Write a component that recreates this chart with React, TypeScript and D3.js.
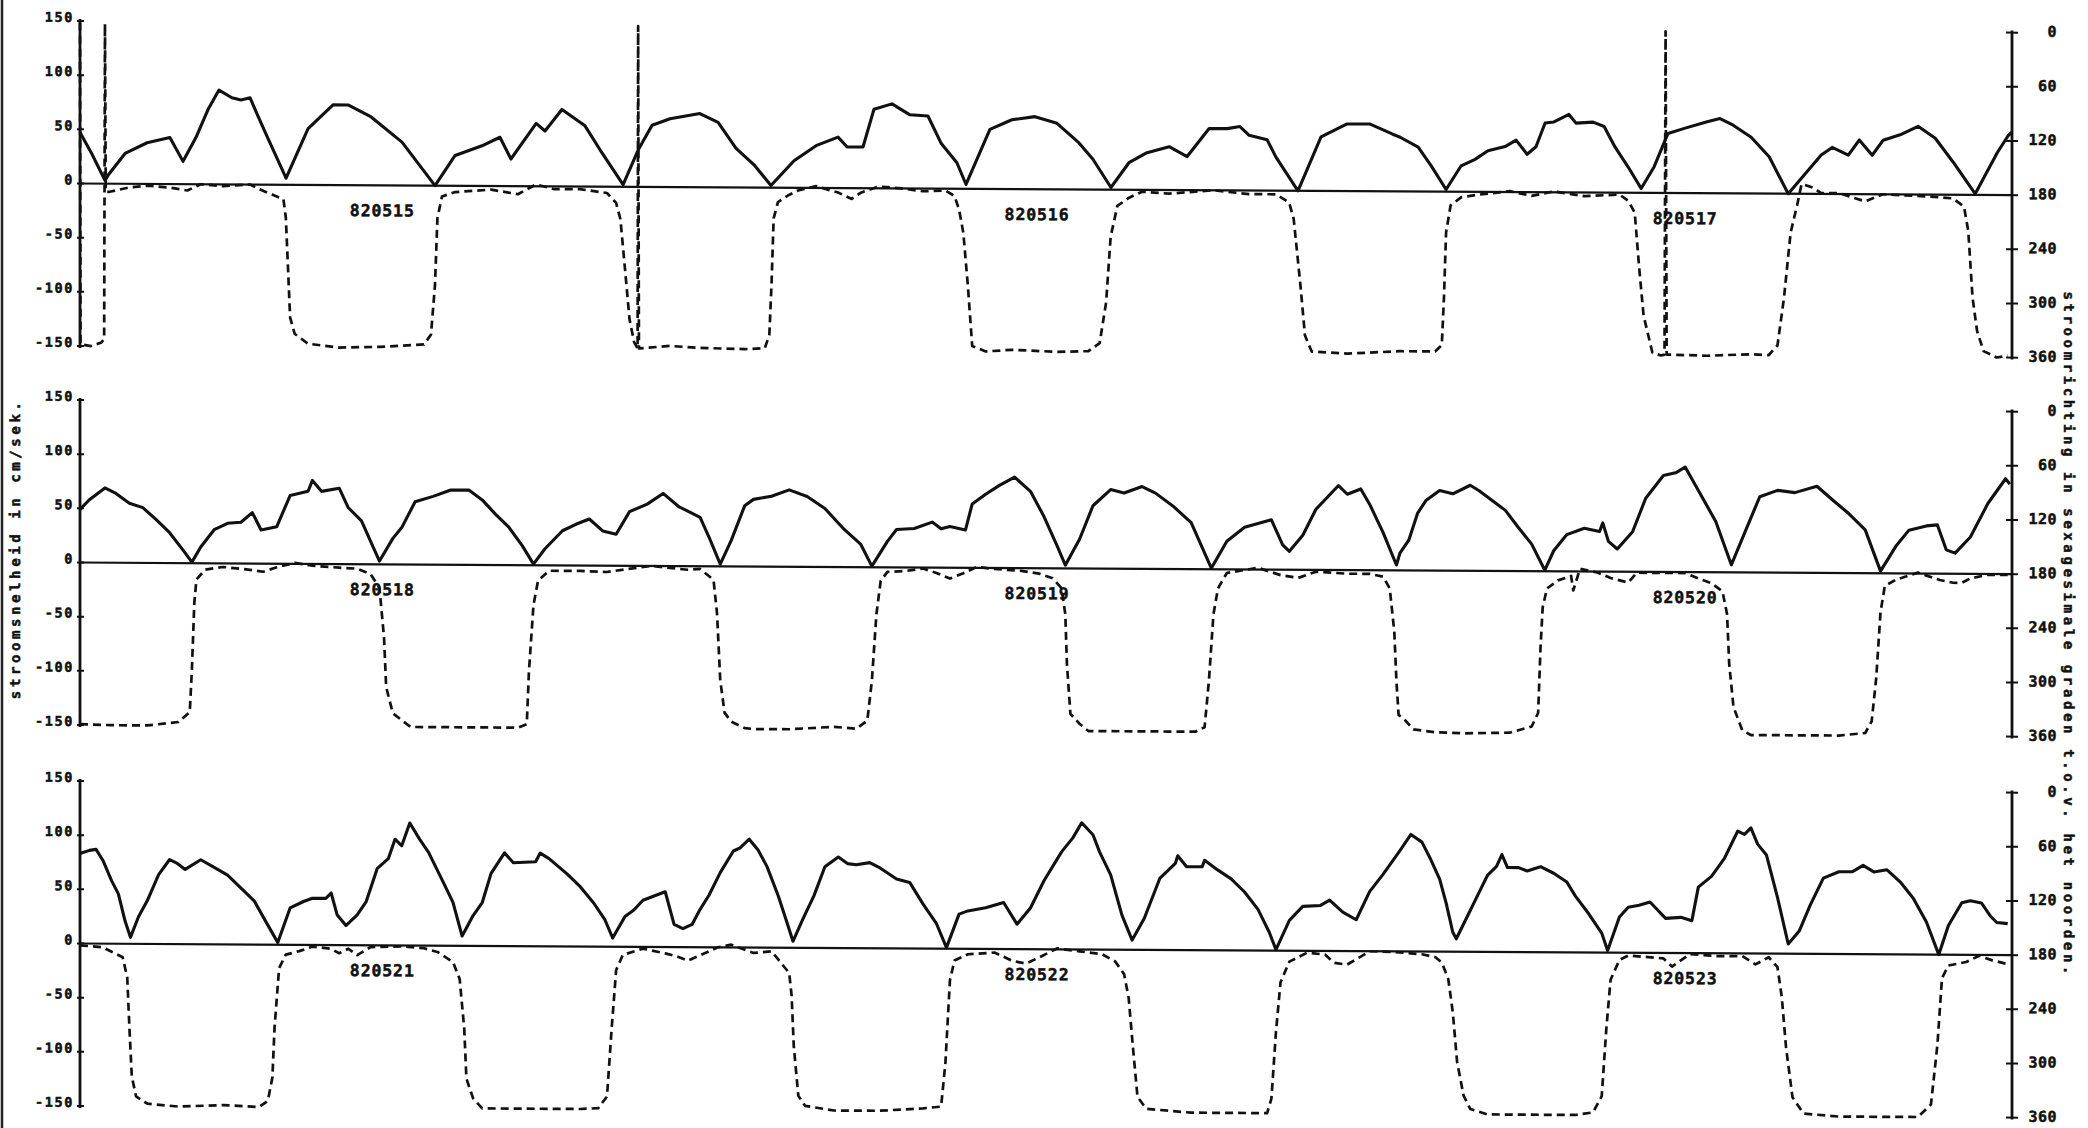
import { useMemo } from "react";
import * as d3 from "d3";

const WIDTH = 2088;
const HEIGHT = 1128;
const PLOT_LEFT = 80;
const PLOT_RIGHT = 2012;
const PANEL_TOPS = [21, 400, 781];
const PANEL_HEIGHT = 325;
// the scanned plot runs slightly downhill to the right
const SKEW = 0.006;
const FONT = "'DejaVu Sans Mono', 'Liberation Mono', monospace";
const INK = "#111";

const HOURS = 72;
const speedTicks = [150, 100, 50, 0, -50, -100, -150];
const directionTicks = [0, 60, 120, 180, 240, 300, 360];
const dayLabels = [
  ["820515", "820516", "820517"],
  ["820518", "820519", "820520"],
  ["820521", "820522", "820523"],
];
const dayLabelHours = [11.25, 35.65, 59.8];

// [hour, cm/sek]
const speedA = [
  [0, 47], [0.43, 28], [0.93, 3], [1.08, 9], [1.68, 28], [2.5, 38], [3.35, 43], [3.84, 21], [4.32, 43], [4.77, 69],
  [5.18, 87], [5.66, 80], [6.0, 78], [6.34, 80], [6.6, 65], [7.0, 43], [7.68, 6], [8.5, 52], [9.43, 74], [9.99, 74],
  [10.85, 63], [12.0, 40], [13.23, 0], [13.98, 28], [14.98, 37], [15.65, 45], [16.06, 25], [17.0, 58], [17.33, 51],
  [17.96, 71], [18.82, 56], [19.38, 34], [20.24, 2], [20.8, 34], [21.32, 57], [21.99, 63], [23.1, 68], [23.78, 60],
  [24.45, 36], [25.12, 21], [25.75, 2], [26.61, 25], [27.43, 39], [28.25, 47], [28.59, 38], [29.18, 38], [29.59, 73],
  [30.26, 78], [30.93, 68], [31.6, 67], [32.09, 42], [32.68, 24], [33.02, 4], [33.91, 55], [34.73, 64], [35.59, 67],
  [36.41, 61], [37.23, 43], [37.75, 28], [38.42, 2], [39.09, 25], [39.73, 34], [40.59, 40], [41.26, 31], [42.08, 57],
  [42.75, 57], [43.23, 59], [43.57, 51], [44.24, 47], [44.57, 31], [45.39, 0], [46.25, 50], [47.22, 62], [48.08, 62],
  [48.9, 53], [49.2, 50], [49.87, 41], [50.35, 24], [50.91, 2], [51.47, 24], [51.99, 30], [52.47, 38], [53.11, 42],
  [53.52, 48], [53.93, 35], [54.26, 42], [54.6, 64], [54.93, 65], [55.49, 72], [55.75, 64], [56.39, 65], [56.8, 61],
  [57.21, 42], [57.69, 24], [58.18, 4], [58.66, 24], [59.18, 55], [59.82, 60], [60.64, 66], [61.12, 69], [61.61, 63],
  [62.28, 52], [62.95, 34], [63.66, 0], [64.89, 36], [65.3, 43], [65.9, 36], [66.31, 50], [66.79, 36], [67.2, 50],
  [67.83, 55], [68.5, 63], [69.14, 52], [69.81, 30], [70.63, 1], [71.45, 39], [71.86, 55], [72, 58],
];

// [hour, degrees]
const dirA = [
  [0, 2], [0.02, 358], [0.4, 360], [0.8, 356], [0.9, 352], [0.93, 3], [0.96, 189], [1.1, 189], [1.84, 184], [2.5, 182],
  [3.35, 184], [4.0, 187], [4.5, 180], [5.33, 182], [6.34, 180], [6.67, 185], [7.16, 191], [7.58, 196], [7.67, 216],
  [7.75, 271], [7.83, 327], [8.0, 345], [8.5, 356], [9.65, 360], [11.16, 359], [12.82, 356], [13.08, 345], [13.23, 290],
  [13.32, 216], [13.49, 192], [13.98, 187], [15.32, 184], [16.32, 189], [16.99, 178], [17.65, 183], [18.63, 183],
  [19.64, 187], [19.98, 198], [20.14, 216], [20.31, 271], [20.48, 327], [20.65, 352], [20.78, 359], [20.8, 2],
  [20.83, 359], [21.99, 356], [23.11, 358], [24.77, 359], [25.52, 358], [25.69, 343], [25.77, 288], [25.85, 214],
  [26.01, 196], [26.42, 188], [26.76, 183], [27.43, 178], [28.25, 185], [28.76, 192], [29.1, 185], [29.76, 178],
  [30.6, 180], [31.42, 183], [32.25, 182], [32.59, 188], [32.76, 203], [32.92, 229], [33.09, 288], [33.25, 354],
  [33.75, 360], [34.75, 358], [36.41, 360], [37.58, 359], [38.0, 350], [38.24, 305], [38.41, 232], [38.66, 198],
  [39.08, 189], [39.58, 182], [40.58, 184], [42.24, 180], [43.57, 184], [44.57, 184], [45.06, 193], [45.23, 211],
  [45.48, 284], [45.65, 340], [45.9, 358], [47.22, 360], [49.19, 357], [50.5, 357], [50.75, 350], [50.83, 298],
  [50.91, 225], [51.08, 195], [51.48, 186], [52.14, 183], [53.28, 179], [54.1, 184], [54.92, 179], [56.06, 184],
  [57.37, 182], [57.7, 189], [57.94, 202], [58.1, 261], [58.27, 316], [58.6, 357], [58.92, 360], [59.05, 359],
  [59.09, 1], [59.13, 359], [59.33, 359], [60.64, 360], [62.27, 358], [62.93, 359], [63.26, 348], [63.5, 296],
  [63.75, 223], [63.99, 193], [64.16, 169], [64.57, 173], [64.89, 179], [65.55, 179], [66.53, 188], [67.18, 180],
  [68.81, 182], [69.8, 184], [70.21, 193], [70.37, 220], [70.53, 294], [70.7, 331], [70.94, 353], [71.43, 360],
  [71.84, 358],
];

const speedB = [
  [0, 49], [0.35, 58], [0.93, 69], [1.34, 64], [1.84, 55], [2.34, 51], [2.84, 40], [3.34, 28], [3.84, 12], [4.17, 1],
  [4.5, 15], [5.0, 31], [5.5, 37], [6.0, 38], [6.42, 47], [6.75, 31], [7.33, 34], [7.83, 63], [8.5, 67], [8.66, 77],
  [9.0, 67], [9.66, 70], [10.0, 52], [10.49, 40], [10.83, 21], [11.16, 3], [11.66, 24], [11.99, 34], [12.49, 58],
  [13.16, 63], [13.82, 69], [14.49, 69], [14.99, 60], [15.48, 47], [15.98, 35], [16.48, 18], [16.9, 1], [17.32, 15],
  [17.98, 32], [18.48, 38], [18.98, 43], [19.48, 32], [19.98, 29], [20.48, 50], [21.14, 57], [21.73, 67], [22.31, 55],
  [23.11, 45], [23.44, 27], [23.86, 2], [24.27, 24], [24.77, 56], [25.1, 62], [25.77, 65], [26.43, 71], [27.1, 65],
  [27.76, 54], [28.43, 36], [29.1, 21], [29.51, 1], [30.09, 24], [30.43, 35], [31.09, 36], [31.76, 42], [32.09, 36],
  [32.42, 38], [33.0, 35], [33.25, 59], [33.75, 68], [34.25, 76], [34.83, 84], [35.42, 71], [35.92, 48], [36.41, 21],
  [36.72, 3], [37.25, 27], [37.75, 58], [38.41, 73], [38.91, 70], [39.58, 76], [40.08, 70], [40.74, 58], [41.41, 43],
  [42.16, 1], [42.74, 26], [43.4, 39], [44.4, 46], [44.82, 23], [45.07, 17], [45.57, 32], [46.06, 56], [46.9, 78],
  [47.23, 70], [47.73, 75], [48.06, 61], [48.56, 35], [49.06, 5], [49.19, 16], [49.52, 28], [49.85, 53], [50.17, 65],
  [50.67, 74], [51.16, 71], [51.81, 79], [52.14, 74], [52.63, 65], [53.12, 56], [53.61, 40], [54.1, 25], [54.59, 1],
  [54.92, 19], [55.41, 34], [56.06, 40], [56.63, 37], [56.75, 45], [56.96, 28], [57.29, 21], [57.86, 37], [58.35, 68],
  [59.01, 89], [59.5, 92], [59.82, 97], [60.48, 68], [60.96, 47], [61.54, 7], [62.11, 41], [62.6, 70], [63.26, 76],
  [63.91, 74], [64.73, 80], [65.38, 66], [65.87, 56], [66.53, 40], [67.1, 2], [67.67, 25], [68.16, 40], [68.81, 44],
  [69.22, 45], [69.55, 22], [69.88, 19], [70.45, 34], [71.1, 65], [71.76, 88], [71.92, 83],
];

const dirB = [
  [0, 359], [1.18, 360], [2.51, 360], [3.67, 356], [4.09, 345], [4.17, 298], [4.26, 224], [4.34, 198], [4.67, 187],
  [5.34, 184], [6.34, 187], [6.83, 189], [7.33, 184], [8.0, 179], [8.66, 182], [9.66, 184], [10.33, 185], [10.83, 191],
  [11.16, 206], [11.33, 261], [11.41, 316], [11.66, 345], [12.32, 360], [13.66, 360], [15.32, 360], [16.32, 360],
  [16.65, 356], [16.73, 298], [16.9, 224], [17.07, 197], [17.48, 186], [18.65, 186], [19.64, 187], [20.31, 184],
  [21.31, 180], [22.64, 184], [23.11, 183], [23.61, 195], [23.74, 232], [23.86, 306], [24.02, 342], [24.27, 352],
  [24.77, 359], [25.1, 360], [26.43, 360], [28.1, 357], [28.93, 359], [29.34, 350], [29.51, 306], [29.68, 232],
  [29.84, 195], [30.09, 185], [30.76, 184], [31.42, 181], [31.92, 186], [32.42, 192], [32.92, 186], [33.42, 179],
  [34.08, 181], [35.08, 183], [35.75, 186], [36.25, 191], [36.58, 202], [36.72, 231], [36.78, 286], [36.91, 341],
  [37.25, 352], [37.58, 360], [38.91, 360], [40.58, 360], [41.57, 360], [41.91, 355], [42.07, 304], [42.24, 230],
  [42.41, 201], [42.74, 184], [43.9, 178], [44.74, 186], [45.4, 189], [46.06, 182], [47.23, 184], [48.06, 184],
  [48.56, 187], [48.81, 200], [48.98, 248], [49.06, 303], [49.14, 340], [49.36, 345], [49.69, 356], [50.5, 359],
  [51.65, 360], [53.28, 359], [54.1, 352], [54.34, 337], [54.43, 264], [54.51, 220], [54.67, 199], [55.08, 190],
  [55.57, 185], [55.65, 201], [55.9, 177], [56.55, 181], [57.04, 187], [57.7, 192], [58.02, 181], [59.01, 181],
  [59.82, 181], [60.31, 187], [60.8, 192], [61.21, 201], [61.38, 226], [61.46, 281], [61.62, 329], [61.95, 355],
  [62.27, 360], [63.91, 360], [65.55, 360], [66.53, 357], [66.77, 344], [66.94, 296], [67.1, 223], [67.26, 194],
  [67.67, 187], [68.49, 179], [69.31, 187], [69.8, 190], [70.13, 190], [70.45, 185], [71.1, 181], [71.84, 181],
];

const speedC = [
  [0, 83], [0.35, 86], [0.6, 87], [0.85, 77], [1.18, 58], [1.43, 46], [1.68, 21], [1.88, 6], [2.18, 25], [2.51, 40],
  [2.93, 64], [3.34, 78], [3.59, 75], [3.92, 69], [4.5, 78], [5.0, 71], [5.5, 64], [6.0, 52], [6.5, 40], [7.0, 18],
  [7.37, 2], [7.83, 34], [8.33, 40], [8.66, 43], [9.16, 43], [9.36, 48], [9.58, 28], [9.91, 18], [10.33, 28],
  [10.66, 40], [11.08, 71], [11.49, 80], [11.74, 98], [11.99, 92], [12.29, 113], [12.66, 98], [12.99, 86], [13.49, 61],
  [13.9, 40], [14.24, 9], [14.65, 28], [14.99, 40], [15.32, 67], [15.82, 86], [16.15, 77], [16.98, 78], [17.15, 86],
  [17.48, 81], [18.15, 67], [18.65, 55], [19.15, 40], [19.56, 25], [19.85, 8], [20.31, 28], [20.64, 34], [20.98, 43],
  [21.81, 51], [22.14, 21], [22.47, 17], [22.81, 21], [23.11, 35], [23.44, 48], [23.86, 69], [24.35, 89], [24.6, 92],
  [24.94, 100], [25.27, 90], [25.6, 75], [26.02, 48], [26.35, 23], [26.57, 6], [26.93, 26], [27.35, 48], [27.76, 75],
  [28.26, 84], [28.6, 78], [28.93, 77], [29.43, 79], [29.76, 75], [30.43, 64], [30.92, 61], [31.42, 41], [31.92, 23],
  [32.29, 1], [32.76, 32], [33.09, 35], [33.75, 38], [34.42, 43], [34.92, 23], [35.42, 38], [35.92, 63], [36.58, 90],
  [37.0, 103], [37.33, 117], [37.75, 106], [38.0, 90], [38.41, 69], [38.83, 32], [39.21, 9], [39.66, 29], [40.24, 66],
  [40.82, 80], [40.91, 87], [41.24, 77], [41.82, 77], [41.91, 83], [42.41, 74], [42.9, 66], [43.4, 54], [43.9, 38],
  [44.32, 17], [44.57, 1], [45.07, 28], [45.57, 41], [46.23, 42], [46.57, 47], [47.06, 36], [47.56, 29], [48.06, 55],
  [48.56, 71], [49.19, 93], [49.6, 108], [50.01, 101], [50.34, 85], [50.67, 67], [50.91, 45], [51.16, 18], [51.29, 12],
  [51.65, 30], [52.14, 55], [52.46, 71], [52.79, 79], [52.99, 90], [53.2, 78], [53.61, 78], [53.93, 75], [54.43, 79],
  [54.92, 73], [55.41, 65], [55.73, 52], [56.22, 36], [56.71, 18], [56.93, 2], [57.37, 33], [57.7, 42], [58.1, 44],
  [58.51, 47], [59.09, 32], [59.66, 33], [60.07, 30], [60.31, 61], [60.8, 71], [61.29, 88], [61.78, 113], [62.03, 110],
  [62.27, 116], [62.52, 101], [62.85, 91], [63.26, 52], [63.66, 9], [64.07, 21], [64.48, 45], [64.97, 70], [65.55, 76],
  [66.04, 76], [66.45, 82], [66.85, 76], [67.34, 78], [67.83, 67], [68.32, 52], [68.81, 30], [69.27, 0], [69.63, 27],
  [70.13, 48], [70.45, 50], [70.86, 48], [71.19, 36], [71.43, 30], [71.84, 29],
];

const dirC = [
  [0, 182], [0.85, 184], [1.18, 189], [1.59, 195], [1.76, 217], [1.84, 272], [1.93, 327], [2.09, 349], [2.51, 357],
  [3.67, 360], [5.34, 358], [6.67, 360], [7.0, 353], [7.17, 327], [7.25, 272], [7.42, 206], [7.67, 191], [8.17, 187],
  [8.66, 182], [9.33, 184], [9.66, 189], [10.0, 184], [10.33, 191], [10.83, 182], [11.99, 181], [12.82, 183],
  [13.32, 187], [13.9, 198], [14.15, 217], [14.32, 272], [14.4, 327], [14.65, 349], [14.99, 360], [16.98, 360],
  [18.65, 360], [19.31, 359], [19.64, 346], [19.81, 272], [19.98, 206], [20.23, 189], [20.98, 182], [21.81, 187],
  [22.31, 191], [22.64, 195], [23.11, 189], [23.77, 180], [24.27, 177], [25.1, 186], [25.77, 184], [26.02, 193],
  [26.43, 208], [26.52, 233], [26.6, 289], [26.77, 344], [27.02, 355], [28.1, 360], [29.76, 360], [31.42, 357],
  [32.09, 355], [32.25, 307], [32.42, 215], [32.59, 193], [33.09, 186], [34.08, 184], [34.75, 193], [35.25, 196],
  [35.75, 189], [36.41, 179], [37.25, 182], [38.08, 185], [38.58, 193], [38.91, 207], [39.08, 233], [39.24, 288],
  [39.41, 343], [39.74, 356], [41.41, 360], [43.07, 360], [44.24, 360], [44.4, 344], [44.57, 270], [44.74, 215],
  [45.07, 192], [45.73, 182], [46.4, 184], [46.73, 193], [47.22, 195], [47.73, 186], [48.06, 180], [49.19, 181],
  [50.01, 183], [50.5, 186], [50.75, 192], [50.99, 210], [51.16, 247], [51.32, 302], [51.56, 339], [51.81, 354],
  [52.46, 360], [54.1, 360], [55.73, 360], [56.39, 357], [56.71, 339], [56.88, 265], [57.04, 210], [57.37, 188],
  [57.7, 183], [59.01, 186], [59.33, 195], [59.99, 181], [60.96, 183], [61.95, 183], [62.44, 192], [62.93, 184],
  [63.26, 195], [63.42, 228], [63.58, 284], [63.82, 339], [64.23, 357], [65.55, 360], [67.18, 360], [68.49, 360],
  [68.98, 346], [69.22, 280], [69.39, 206], [69.63, 192], [70.29, 188], [70.78, 181], [71.27, 186], [71.84, 190],
];

const panels = [
  { speed: speedA, dir: dirA, labels: dayLabels[0] },
  { speed: speedB, dir: dirB, labels: dayLabels[1] },
  { speed: speedC, dir: dirC, labels: dayLabels[2] },
];

type PanelProps = {
  top: number;
  speed: number[][];
  dir: number[][];
  labels: string[];
};

// printer-style lettering: bold mono with a thin outline to thicken it
const textStyle = {
  fontFamily: FONT,
  fontWeight: "bold" as const,
  fill: INK,
  stroke: INK,
  strokeWidth: 0.5,
};

const Panel = ({ top, speed, dir, labels }: PanelProps) => {
  const xScale = useMemo(
    () => d3.scaleLinear().domain([0, HOURS]).range([PLOT_LEFT, PLOT_RIGHT]),
    []
  );
  const ySpeed = d3.scaleLinear().domain([-150, 150]).range([top + PANEL_HEIGHT, top]);
  const yDir = d3.scaleLinear().domain([0, 360]).range([top, top + PANEL_HEIGHT]);

  const speedPath = d3
    .line<number[]>()
    .x((d) => xScale(d[0]))
    .y((d) => ySpeed(d[1]))(speed);
  const dirPath = d3
    .line<number[]>()
    .x((d) => xScale(d[0]))
    .y((d) => yDir(d[1]))(dir);

  return (
    <g>
      {/* zero line */}
      <line x1={PLOT_LEFT} x2={PLOT_RIGHT} y1={ySpeed(0)} y2={ySpeed(0)} stroke={INK} strokeWidth={2.2} />

      {/* left axis */}
      <line x1={PLOT_LEFT} x2={PLOT_LEFT} y1={ySpeed(150) - 2} y2={ySpeed(-150) + 2} stroke={INK} strokeWidth={2.8} />
      {speedTicks.map((t) => (
        <g key={t}>
          <line x1={PLOT_LEFT - 3} x2={PLOT_LEFT + 4} y1={ySpeed(t)} y2={ySpeed(t)} stroke={INK} strokeWidth={2} />
          <text x={PLOT_LEFT - 6} y={ySpeed(t) + 1} textAnchor="end" fontSize={13.5} letterSpacing={1.6} {...textStyle}>
            {t}
          </text>
        </g>
      ))}

      {/* right axis */}
      <line x1={PLOT_RIGHT} x2={PLOT_RIGHT} y1={yDir(0) - 2} y2={yDir(360) + 2} stroke={INK} strokeWidth={2.8} />
      {directionTicks.map((t) => (
        <g key={t}>
          <line x1={PLOT_RIGHT - 6} x2={PLOT_RIGHT + 6} y1={yDir(t)} y2={yDir(t)} stroke={INK} strokeWidth={2} />
          <text x={2057} y={yDir(t) + 4} textAnchor="end" fontSize={15} letterSpacing={0.5} {...textStyle}>
            {t}
          </text>
        </g>
      ))}

      <path d={dirPath || ""} fill="none" stroke={INK} strokeWidth={2.7} strokeDasharray="8 5" strokeLinejoin="round" />
      <path d={speedPath || ""} fill="none" stroke={INK} strokeWidth={3.1} strokeLinejoin="round" />

      {labels.map((label, i) => (
        <text
          key={label}
          x={xScale(dayLabelHours[i])}
          y={ySpeed(0) + 31}
          textAnchor="middle"
          fontSize={16.5}
          textLength={64}
          lengthAdjust="spacing"
          {...textStyle}
        >
          {label}
        </text>
      ))}
    </g>
  );
};

export default function App() {
  return (
    <div style={{ position: "absolute", left: 0, top: 0, background: "#fff" }}>
      <svg width={WIDTH} height={HEIGHT} style={{ display: "block" }}>
        <rect width={WIDTH} height={HEIGHT} fill="#fff" />
        {/* scan edge */}
        <line x1={2} x2={2} y1={0} y2={HEIGHT} stroke="#222" strokeWidth={2.5} />
        <g transform={`matrix(1, ${SKEW}, 0, 1, 0, ${-SKEW * PLOT_LEFT})`}>
          {panels.map((p, i) => (
            <Panel key={i} top={PANEL_TOPS[i]} speed={p.speed} dir={p.dir} labels={p.labels} />
          ))}
          <text
            transform="translate(20, 551) rotate(-90)"
            textAnchor="middle"
            fontSize={14}
            textLength={297}
            lengthAdjust="spacing"
            {...textStyle}
          >
            stroomsnelheid in cm/sek.
          </text>
          <text
            transform="translate(2064, 621) rotate(90)"
            textAnchor="middle"
            fontSize={14}
            textLength={683}
            lengthAdjust="spacing"
            {...textStyle}
          >
            stroomrichting in sexagesimale graden t.o.v. het noorden.
          </text>
        </g>
      </svg>
    </div>
  );
}
